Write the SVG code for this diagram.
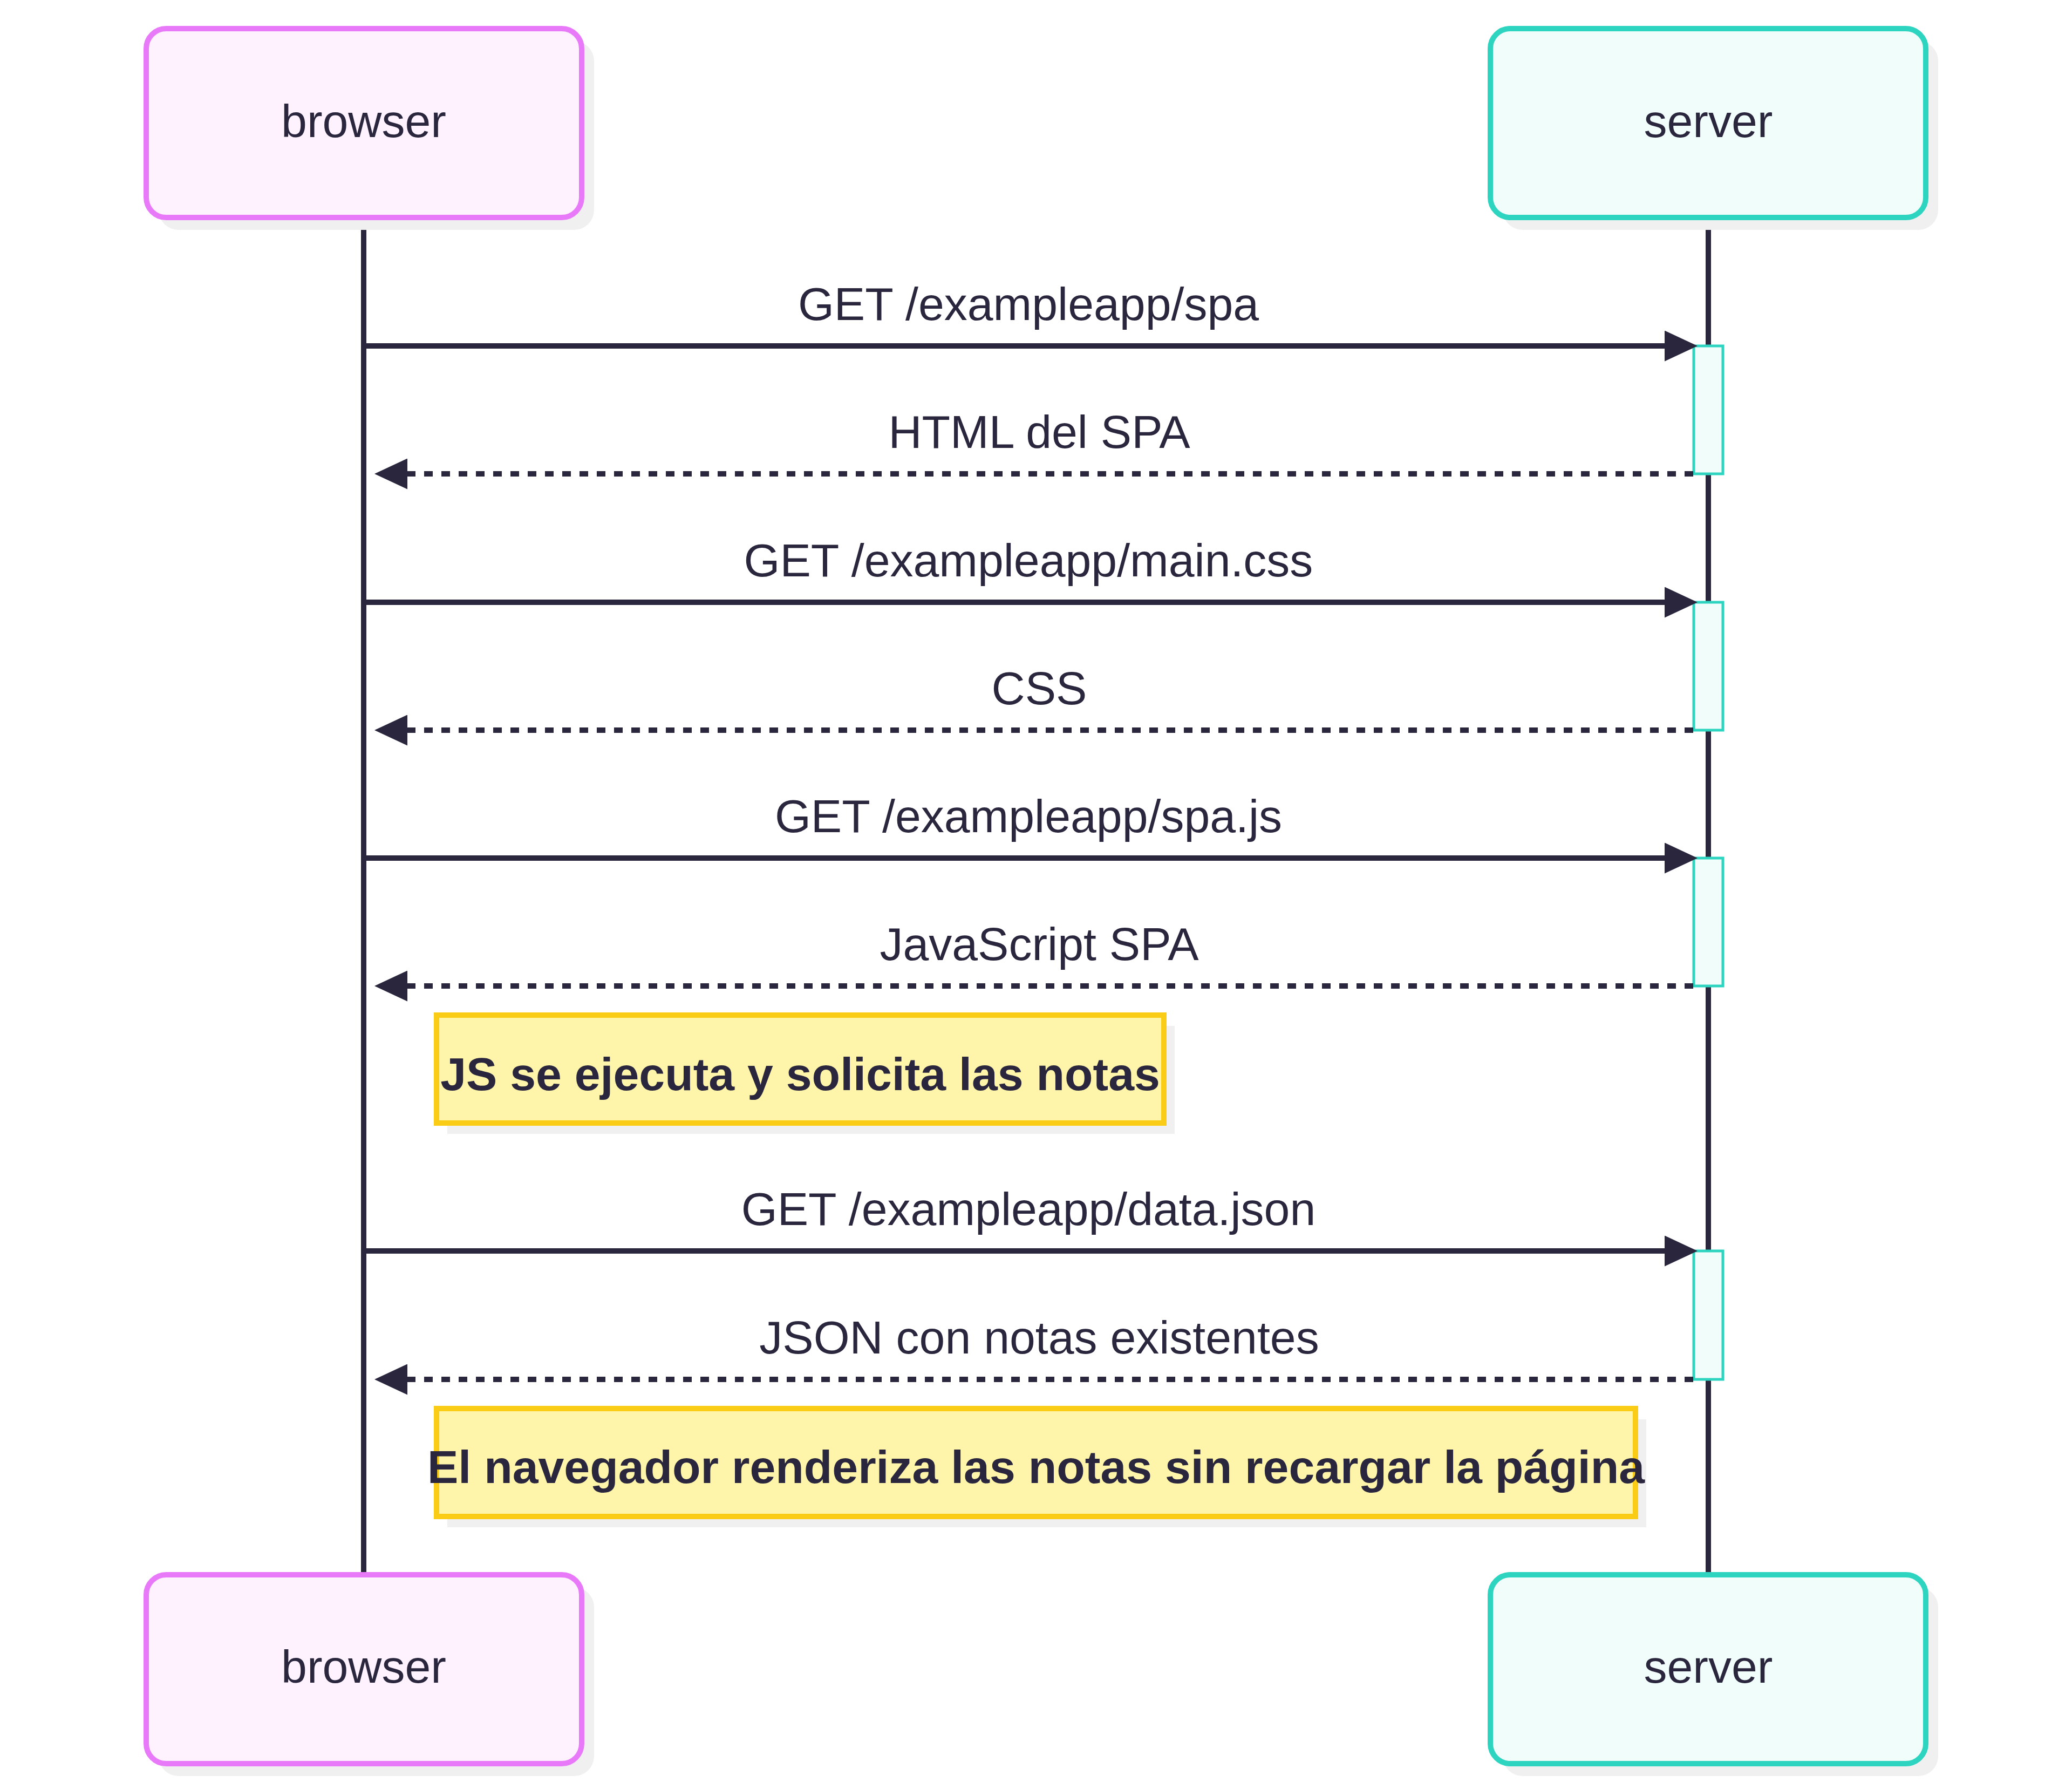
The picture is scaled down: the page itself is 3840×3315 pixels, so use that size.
<svg xmlns="http://www.w3.org/2000/svg" width="3840" height="3315" viewBox="0 0 3840 3315">
<defs>
<style>
.bg{fill:#ffffff}
.shadow{fill:#f0f0f0}
.actB{fill:#fdf2fd;stroke:#e879f9;stroke-width:10}
.actS{fill:#f0fdfa;stroke:#2dd4bf;stroke-width:10}
.atext{font-family:"Liberation Sans",Arial,sans-serif;font-size:86px;fill:#29263d;text-anchor:middle}
.life{stroke:#29263d;stroke-width:10;fill:none}
.activ{fill:#f0fdfa;stroke:#2dd4bf;stroke-width:5}
.msg{stroke:#29263d;stroke-width:10;fill:none;marker-end:url(#arrow)}
.ret{stroke:#29263d;stroke-width:10;fill:none;stroke-dasharray:16 16;marker-end:url(#arrow)}
.mtext{font-family:"Liberation Sans",Arial,sans-serif;font-size:86px;fill:#29263d;text-anchor:middle}
.note{fill:#fef5ab;stroke:#facc15;stroke-width:10}
.ntext{font-family:"Liberation Sans",Arial,sans-serif;font-size:86px;font-weight:bold;fill:#29263d;text-anchor:middle}
</style>
<marker id="arrow" viewBox="0 0 61 57" refX="5" refY="28.5" markerWidth="61" markerHeight="57" markerUnits="userSpaceOnUse" orient="auto">
<path d="M0,0 L61,28.5 L0,57 z" fill="#29263d"/>
</marker>
</defs>
<rect class="bg" x="0" y="0" width="3840" height="3315"/>

<g id="lifelines">
<line class="life" x1="674" y1="403" x2="674" y2="2918"/>
<line class="life" x1="3166" y1="403" x2="3166" y2="2918"/>
</g>

<g id="actor-browser-top">
<rect class="shadow" x="294" y="76" width="807" height="350" rx="37"/>
<rect class="actB" x="271" y="53" width="807" height="350" rx="37"/>
<text class="atext" x="674" y="254">browser</text>
</g>
<g id="actor-server-top">
<rect class="shadow" x="2785" y="76" width="807" height="350" rx="37"/>
<rect class="actS" x="2762" y="53" width="807" height="350" rx="37"/>
<text class="atext" x="3166" y="254">server</text>
</g>

<g id="activations">
<rect class="activ" x="3139" y="641" width="54" height="237"/>
<rect class="activ" x="3139" y="1116" width="54" height="237"/>
<rect class="activ" x="3139" y="1590" width="54" height="237"/>
<rect class="activ" x="3139" y="2318" width="54" height="238"/>
</g>

<g id="connectors">
<line class="msg" x1="679" y1="641" x2="3090" y2="641"/>
<text class="mtext" x="1906" y="593">GET /exampleapp/spa</text>
<line class="ret" x1="3138" y1="878" x2="750" y2="878"/>
<text class="mtext" x="1926" y="830">HTML del SPA</text>
<line class="msg" x1="679" y1="1116" x2="3090" y2="1116"/>
<text class="mtext" x="1906" y="1068">GET /exampleapp/main.css</text>
<line class="ret" x1="3138" y1="1353" x2="750" y2="1353"/>
<text class="mtext" x="1926" y="1305">CSS</text>
<line class="msg" x1="679" y1="1590" x2="3090" y2="1590"/>
<text class="mtext" x="1906" y="1542">GET /exampleapp/spa.js</text>
<line class="ret" x1="3138" y1="1827" x2="750" y2="1827"/>
<text class="mtext" x="1926" y="1779">JavaScript SPA</text>
<line class="msg" x1="679" y1="2318" x2="3090" y2="2318"/>
<text class="mtext" x="1906" y="2270">GET /exampleapp/data.json</text>
<line class="ret" x1="3138" y1="2556" x2="750" y2="2556"/>
<text class="mtext" x="1926" y="2508">JSON con notas existentes</text>
</g>

<g id="note-1">
<rect class="shadow" x="829" y="1901" width="1348" height="200"/>
<rect class="note" x="809" y="1881" width="1348" height="200"/>
<text class="ntext" x="1483" y="2020">JS se ejecuta y solicita las notas</text>
</g>
<g id="note-2">
<rect class="shadow" x="829" y="2630" width="2222" height="200"/>
<rect class="note" x="809" y="2610" width="2222" height="200"/>
<text class="ntext" x="1920" y="2748">El navegador renderiza las notas sin recargar la página</text>
</g>

<g id="actor-browser-bottom">
<rect class="shadow" x="294" y="2941" width="807" height="350" rx="37"/>
<rect class="actB" x="271" y="2918" width="807" height="350" rx="37"/>
<text class="atext" x="674" y="3118">browser</text>
</g>
<g id="actor-server-bottom">
<rect class="shadow" x="2785" y="2941" width="807" height="350" rx="37"/>
<rect class="actS" x="2762" y="2918" width="807" height="350" rx="37"/>
<text class="atext" x="3166" y="3118">server</text>
</g>
</svg>
